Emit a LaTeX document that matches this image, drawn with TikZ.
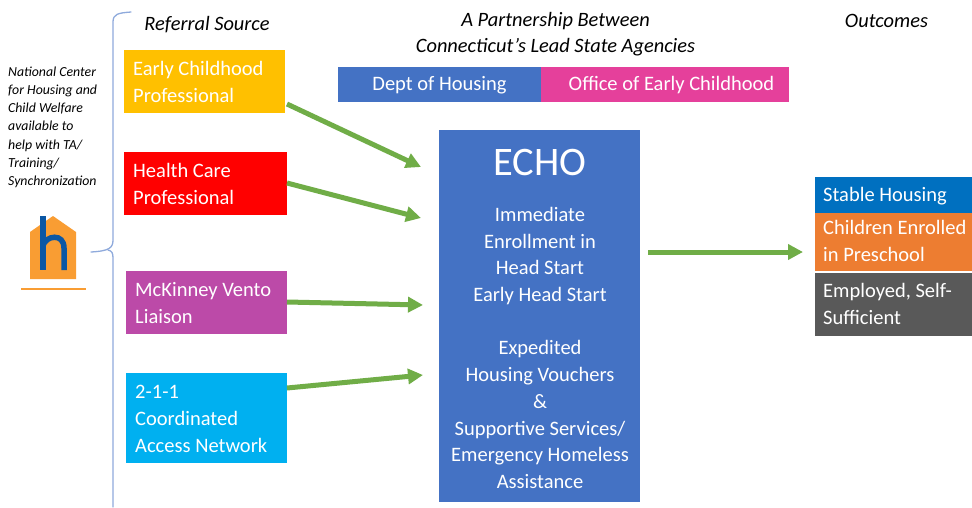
\documentclass[tikz,border=0pt]{standalone}
\usepackage{fontspec}
\setmainfont{Carlito}
\usetikzlibrary{arrows.meta,calc}
\definecolor{cyellow}{HTML}{FFC000}
\definecolor{cred}{HTML}{FF0000}
\definecolor{cpurple}{HTML}{BC4AA8}
\definecolor{ccyan}{HTML}{00B0F0}
\definecolor{cblue}{HTML}{4472C4}
\definecolor{cpink}{HTML}{E5409B}
\definecolor{cgreen}{HTML}{70AD47}
\definecolor{cdeep}{HTML}{0070C0}
\definecolor{corange}{HTML}{ED7D31}
\definecolor{cgrey}{HTML}{595959}
\definecolor{chouse}{HTML}{F99D33}
\definecolor{chblue}{HTML}{0B57A4}
\definecolor{cbrace}{HTML}{8FAADC}
\tikzset{
  x=1pt,y=-1pt,
  box/.style={anchor=north west,inner sep=0pt,outer sep=0pt,text=white},
  label/.style={text=white,inner sep=0pt,align=left,font=\fontsize{20.5}{27}\selectfont},
  hdr/.style={font=\fontsize{20.4}{26}\selectfont\itshape,text=black,inner sep=0pt,align=center},
  flow/.style={draw=cgreen,line width=5pt,-{Triangle[length=15pt,width=15pt]}},
}
\newcommand{\pbox}[8]{%
  \node[box,fill=#2,minimum width=#5pt,minimum height=#6pt] (#1) at (#3,#4) {};
  \node[label,anchor=west] (#1t) at ($(#1.west)+(9,#7)$) {#8};
}
\begin{document}
\begin{tikzpicture}
\useasboundingbox (0,0) rectangle (972,507);
\fill[white] (0,0) rectangle (972,507);

\pbox{early}{cyellow}{124}{50}{161}{63}{0}{Early Childhood\\Professional}
\pbox{health}{cred}{124}{152}{163}{63}{0}{Health Care\\Professional}
\pbox{mck}{cpurple}{126}{271}{161}{63}{0.6}{McKinney Vento\\Liaison}
\pbox{two}{ccyan}{126}{373}{161}{90}{0.8}{2-1-1\\Coordinated\\Access Network}

\node[hdr] (hsrc) at (207,25) {Referral Source};
\node[hdr] (hpart) at (555.5,34.5) {A Partnership Between\\Connecticut’s Lead State Agencies};
\node[hdr] (hout) at (886.5,20.8) {Outcomes};

\node[box,fill=cblue,minimum width=203pt,minimum height=35pt] (housing) at (338,67) {};
\node[box,fill=cpink,minimum width=248pt,minimum height=35pt] (oec) at (541,67) {};
\node[label] (housingt) at (439.5,85.5) {Dept of Housing};
\node[label] (oect) at (671.5,85.5) {Office of Early Childhood};

\node[box,fill=cblue,minimum width=201pt,minimum height=372pt] (echo) at (439,130) {};
\node[text=white,font=\fontsize{40.5}{44}\selectfont,inner sep=0pt] (echot) at (540,162.5) {ECHO};
\node[text=white,font=\fontsize{20.5}{26.7}\selectfont,inner sep=0pt,align=center,anchor=north] (echob) at (540,207) {Immediate\\Enrollment in\\Head Start\\Early Head Start\\[26.7pt]Expedited\\Housing Vouchers\\\&\\Supportive Services/\\Emergency Homeless\\Assistance};

\coordinate (e1) at (421,167);
\coordinate (e2) at (421,218);
\coordinate (e3) at (423,305);
\coordinate (e4) at (423,375);
\coordinate (s1) at (287,104);
\coordinate (s2) at (287,183);
\coordinate (s3) at (287,302);
\coordinate (s4) at (287,388);
\coordinate (o1) at (648,252);
\coordinate (o2) at (803,252);
\draw[flow] (s1) -- (e1);
\draw[flow] (s2) -- (e2);
\draw[flow] (s3) -- (e3);
\draw[flow] (s4) -- (e4);
\draw[flow] (o1) -- (o2);

\node[box,fill=cdeep,minimum width=157pt,minimum height=36pt] (stable) at (815,177) {};
\node[box,fill=corange,minimum width=157pt,minimum height=58pt] (kids) at (815,213) {};
\node[box,fill=cgrey,minimum width=157pt,minimum height=63pt] (emp) at (815,273) {};
\node[label,anchor=west] (stablet) at (823,196) {Stable Housing};
\node[label,anchor=west] (kidst) at (823,241) {Children Enrolled\\in Preschool};
\node[label,anchor=west] (empt) at (823,304) {Employed, Self-\\Sufficient};

\node[anchor=north west,inner sep=0pt,align=left,font=\fontsize{13.8}{18.2}\selectfont\itshape] (ncfh) at (8,66.5) {National Center\\for Housing and\\Child Welfare\\available to\\help with TA/\\Training/\\Synchronization};

\fill[chouse] (30,279) -- (30,232) -- (53,216) -- (76,232) -- (76,279) -- cycle;
\fill[chblue] (40,216) rectangle (45.5,270);
\draw[chblue,line width=5.5pt] (42.7,246) .. controls (46,235) and (64,233) .. (64,248) -- (64,270);
\draw[chouse,line width=1.5pt] (21,289) -- (86,289);

\draw[cbrace,line width=1.3pt,line cap=round] (131,12) .. controls (118,13) and (113,14) .. (113,22) -- (113,240) .. controls (113,248) and (109,251) .. (91,252);
\draw[cbrace,line width=1.3pt,line cap=round] (108,250) .. controls (112,251) and (113,253) .. (113,258) -- (113,507);
\end{tikzpicture}
\end{document}
